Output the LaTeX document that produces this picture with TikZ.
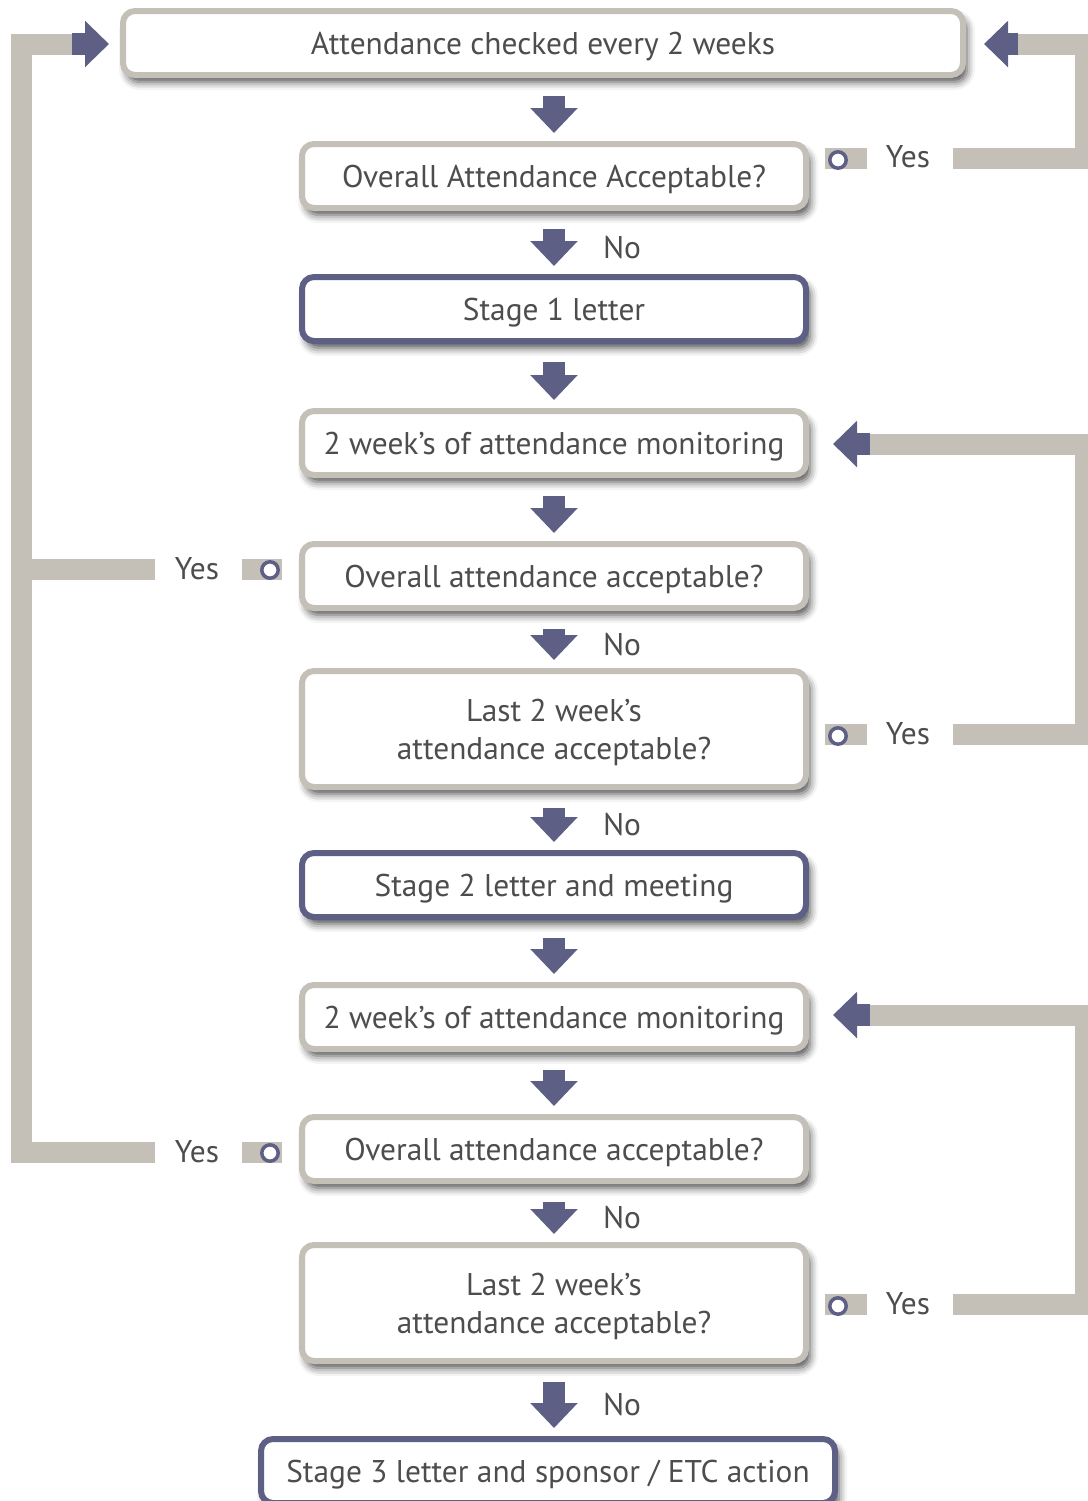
\documentclass[tikz,border=0pt]{standalone}
\usepackage{fontspec}
\setmainfont{PT Sans}
\usetikzlibrary{arrows.meta,calc,shadows.blur}
\definecolor{bargray}{RGB}{196,191,183}
\definecolor{pur}{RGB}{93,95,133}
\definecolor{txt}{RGB}{77,77,77}
\newcommand\darr[4]{\draw[downarr] ($(#1.south -| #3.center)+(0,18)$) -- #4 ($(#2.north -| #3.center)+(0,-8)$);}
\begin{document}
\begin{tikzpicture}[x=0.5pt,y=-0.5pt,
 box/.style={draw=bargray, line width=3pt, rounded corners=6pt, fill=white, text=txt,
   font=\fontsize{15.7}{19}\selectfont, align=center, inner sep=0pt, text depth=0pt,
   minimum width=252pt, minimum height=32pt,
   blur shadow={shadow xshift=2pt, shadow yshift=-3.5pt, shadow blur radius=4pt, shadow opacity=70}},
 stagebox/.style={box, draw=pur},
 downarr/.style={draw=pur, line width=11pt, -{Triangle[width=23pt,length=12.5pt]}},
 sidearr/.style={draw=pur, line width=11pt, -{Triangle[width=22.5pt,length=12pt]}},
 bar/.style={draw=bargray, line width=10.5pt},
 lbl/.style={text=txt, font=\fontsize{15.7}{19}\selectfont, inner sep=0pt},
 nolbl/.style={lbl, pos=0.5, xshift=34pt},
 knob/.style={circle, draw=pur, line width=1.75pt, fill=white, minimum size=8.2pt, inner sep=0pt},
]
\useasboundingbox (0,0) rectangle (1088,1501);
\clip (0,0) rectangle (1088,1501);

% boxes
\node[box, minimum width=420pt] (b1) at (543,43) {Attendance checked every 2 weeks};
\node[box] (b2) at (554,176) {Overall Attendance Acceptable?};
\node[stagebox] (b3) at (554,309) {Stage 1 letter};
\node[box] (b4) at (554,443) {2 week’s of attendance monitoring};
\node[box] (b5) at (554,576) {Overall attendance acceptable?};
\node[box, minimum height=58pt] (b6) at (554,729) {Last 2 week’s\\attendance acceptable?};
\node[stagebox] (b7) at (554,885) {Stage 2 letter and meeting};
\node[box] (b8) at (554,1017) {2 week’s of attendance monitoring};
\node[box] (b9) at (554,1149) {Overall attendance acceptable?};
\node[box, minimum height=58pt] (b10) at (554,1303) {Last 2 week’s\\attendance acceptable?};
\node[stagebox, minimum width=287pt] (b11) at (548,1471) {Stage 3 letter and sponsor / ETC action};

% down arrows
\darr{b1}{b2}{b2}{}
\darr{b2}{b3}{b2}{node[nolbl] (n1) {No}}
\darr{b3}{b4}{b3}{}
\darr{b4}{b5}{b4}{}
\darr{b5}{b6}{b5}{node[nolbl] (n2) {No}}
\darr{b6}{b7}{b6}{node[nolbl] (n3) {No}}
\darr{b7}{b8}{b7}{}
\darr{b8}{b9}{b8}{}
\darr{b9}{b10}{b9}{node[nolbl] (n4) {No}}
\darr{b10}{b11}{b10}{node[nolbl] (n5) {No}}

% right loop 1: b2 -> b1
\draw[bar] (825,158) -- (867,158);
\node[knob] (k1) at (838,160) {};
\node[lbl] (y1) at (908,157) {Yes};
\coordinate (r1a) at (953,158);
\coordinate (r1b) at (1085,158);
\coordinate (r1c) at (1085,44);
\coordinate (r1d) at (1018,44);
\draw[bar] (r1a) -- (r1b) -- (r1c) -- (r1d);
\draw[sidearr] (r1d) -- ($(b1.east)+(18,1)$);

% right loop 2: b6 -> b4
\draw[bar] (825,734) -- (867,734);
\node[knob] (k2) at (838,736) {};
\node[lbl] (y2) at (908,734) {Yes};
\coordinate (r2a) at (953,734);
\coordinate (r2b) at (1085,734);
\coordinate (r2c) at (1085,444);
\coordinate (r2d) at (870,444);
\draw[bar] (r2a) -- (r2b) -- (r2c) -- (r2d);
\draw[sidearr] (r2d) -- ($(b4.east)+(24,1)$);

% right loop 3: b10 -> b8
\draw[bar] (825,1304) -- (867,1304);
\node[knob] (k3) at (838,1306) {};
\node[lbl] (y3) at (908,1304) {Yes};
\coordinate (r3a) at (953,1304);
\coordinate (r3b) at (1085,1304);
\coordinate (r3c) at (1085,1015);
\coordinate (r3d) at (870,1015);
\draw[bar] (r3a) -- (r3b) -- (r3c) -- (r3d);
\draw[sidearr] (r3d) -- ($(b8.east)+(24,-2)$);

% left loop: b5, b9 -> b1
\draw[bar] (242,569) -- (282,569);
\node[knob] (k4) at (270,570) {};
\node[lbl] (y4) at (197,569) {Yes};
\draw[bar] (242,1152) -- (282,1152);
\node[knob] (k5) at (270,1153) {};
\node[lbl] (y5) at (197,1152) {Yes};
\coordinate (l1a) at (155,1152);
\coordinate (l1b) at (21.5,1152);
\coordinate (l1c) at (21.5,44);
\coordinate (l1d) at (72,44);
\coordinate (l2a) at (155,569);
\coordinate (l2b) at (21.5,569);
\draw[bar] (l1a) -- (l1b) -- (l1c) -- (l1d);
\draw[bar] (l2a) -- (l2b);
\draw[sidearr] (l1d) -- ($(b1.west)+(-11,1)$);
\end{tikzpicture}
\end{document}
